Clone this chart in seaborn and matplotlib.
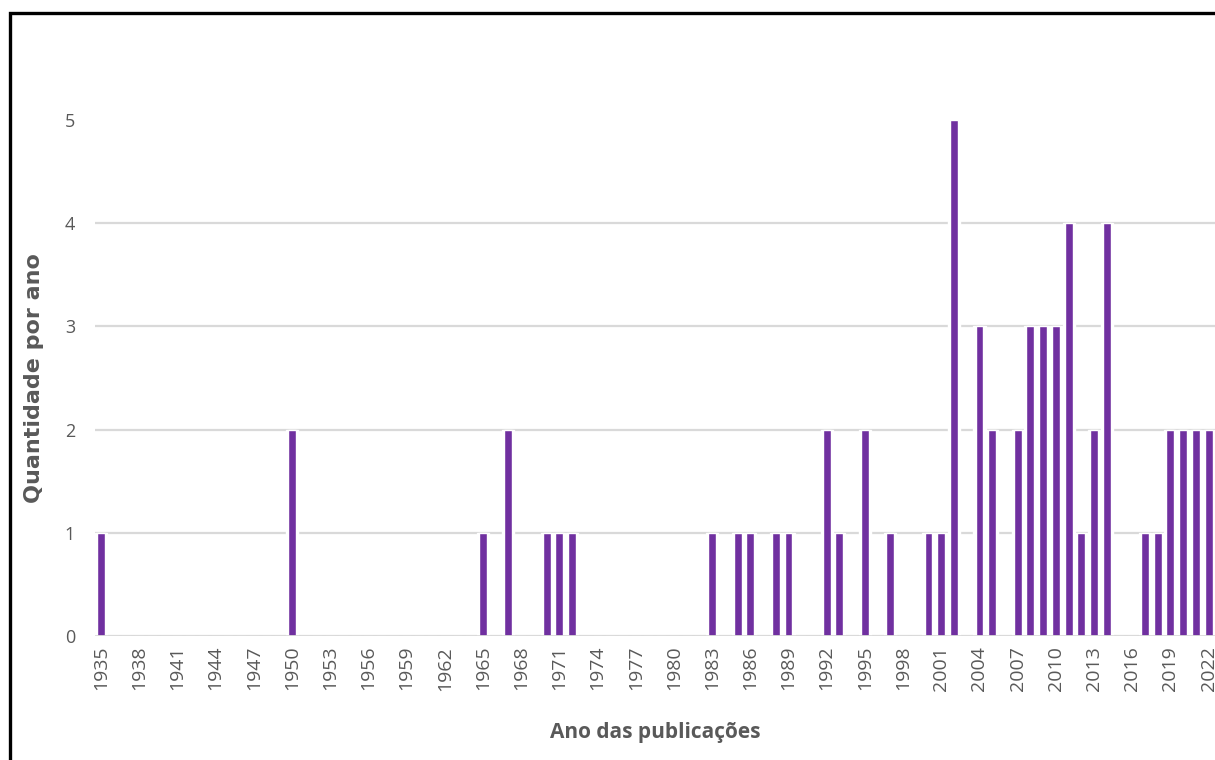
import pandas as pd
import seaborn as sns
import matplotlib.pyplot as plt
from matplotlib.patches import Rectangle

# anos com publicações e quantidade por ano (demais anos = 0)
anos_pub = [1935, 1950, 1965, 1967, 1970, 1971, 1972, 1983, 1985, 1986, 1988, 1989,
            1992, 1993, 1995, 1997, 2000, 2001, 2002, 2004, 2005, 2007, 2008, 2009,
            2010, 2011, 2012, 2013, 2014, 2017, 2018, 2019, 2020, 2021, 2022]
qtd_pub = [1, 2, 1, 2, 1, 1, 1, 1, 1, 1, 1, 1,
           2, 1, 2, 1, 1, 1, 5, 3, 2, 2, 3, 3,
           3, 4, 1, 2, 4, 1, 1, 2, 2, 2, 2]
ano_ini, ano_fim = 1935, 2022
y_ticks = [0, 1, 2, 3, 4, 5]

cor_barra = "#7030A0"
cor_texto = "#595959"
cor_grade = "#d9d9d9"

todos = list(range(ano_ini, ano_fim + 1))
df = pd.Series(qtd_pub, index=anos_pub).reindex(todos, fill_value=0).reset_index()
df.columns = ["ano", "qtd"]
df["ano"] = df["ano"].astype(str)
ordem = df["ano"].tolist()

sns.set_style("white")
plt.rcParams['font.family'] = ['Open Sans', 'DejaVu Sans']

fig = plt.figure(figsize=(12.15, 7.6), dpi=100)
ax = fig.add_axes([94.6 / 1215, 0.163, 1 - 94.6 / 1215, 0.679])

# barra branca por trás (abre espaço na grade), depois a barra roxa
sns.barplot(data=df, x="ano", y="qtd", order=ordem, color="white", width=0.95,
            saturation=1, ax=ax, zorder=2)
sns.barplot(data=df, x="ano", y="qtd", order=ordem, color=cor_barra, width=0.62,
            saturation=1, ax=ax, zorder=3)

ax.set_ylim(0, 5)
ax.set_xlim(-0.5, len(ordem) - 0.5)
ax.set_yticks(y_ticks)
ax.set_axisbelow(True)
ax.yaxis.grid(True, color=cor_grade, linewidth=1.6, zorder=0)
ax.get_ygridlines()[-1].set_visible(False)
ax.axhline(0, color=cor_grade, linewidth=2, zorder=4)

pos = list(range(0, len(ordem), 3))
ax.set_xticks(pos)
ax.set_xticklabels([ordem[i] for i in pos], rotation=90)
ax.tick_params(axis="x", length=0, pad=7, labelsize=14, labelcolor=cor_texto)
ax.tick_params(axis="y", length=0, pad=14, labelsize=13, labelcolor=cor_texto)

for s in ax.spines.values():
    s.set_visible(False)

ax.set_xlabel("Ano das publicações", fontsize=15, fontweight="bold", color=cor_texto)
ax.set_ylabel("Quantidade por ano", fontsize=16, fontweight="bold", color=cor_texto,
              family=["DejaVu Sans"])
ax.xaxis.set_label_coords(0.5, -0.167)
ax.yaxis.set_label_coords(-0.045, 0.5)

# moldura preta em volta da figura
fig.patches.append(Rectangle((10 / 1215, -0.2), 1.2, 1.2 - 13 / 760, transform=fig.transFigure,
                             fill=False, edgecolor="black", linewidth=2.4, zorder=10))

fig.savefig("out.png", dpi=100)
